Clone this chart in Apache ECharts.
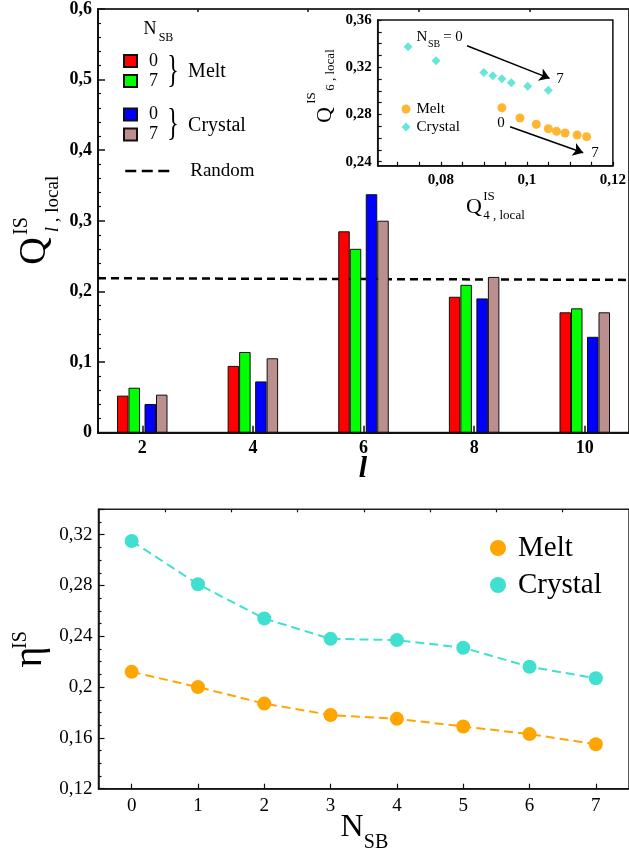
<!DOCTYPE html>
<html><head><meta charset="utf-8">
<script src="https://cdn.jsdelivr.net/npm/echarts@6/dist/echarts.min.js"></script>
<style>html,body{margin:0;padding:0;background:#fff}#c{width:629px;height:853px}</style>
</head><body><div id="c"></div><script>
// ---- top chart: Q_l local, bars ----
const lValues = [2, 4, 6, 8, 10];
const melt0 = [0.0525, 0.0946, 0.2852, 0.1925, 0.1705];
const melt7 = [0.0637, 0.1143, 0.2604, 0.2094, 0.1761];
const crystal0 = [0.0407, 0.0726, 0.3377, 0.1902, 0.1358];
const crystal7 = [0.0539, 0.1054, 0.3002, 0.2206, 0.1705];
const randomX = [1.2, 10.8];
const randomY = [0.2187, 0.2164];
const topMajorTicks = [2, 4, 6, 8, 10];
const topMinorTicks = [3, 5, 7, 9];
// ---- inset: Q6 vs Q4 ----
const insetMeltQ4 = [0.0942, 0.0984, 0.1022, 0.1050, 0.1069, 0.1089, 0.1117, 0.1139];
const insetMeltQ6 = [0.2857, 0.2770, 0.2717, 0.2679, 0.2657, 0.2643, 0.2626, 0.2612];
const insetCrystalQ4 = [0.0724, 0.0789, 0.0900, 0.0921, 0.0942, 0.0964, 0.1002, 0.1050];
const insetCrystalQ6 = [0.3374, 0.3255, 0.3155, 0.3127, 0.3103, 0.3069, 0.3039, 0.3005];
const insetXLabels = [0.08, 0.1, 0.12];
const insetXTicks = [0.07, 0.075, 0.08, 0.085, 0.09, 0.095, 0.1, 0.105, 0.11, 0.115, 0.12];
const insetYLabels = [0.24, 0.28, 0.32, 0.36];
const insetYTicks = [0.24, 0.25, 0.26, 0.27, 0.28, 0.29, 0.30, 0.31, 0.32, 0.33, 0.34, 0.35, 0.36];
const arrowUpper = [[0.0861, 0.3382], [0.1053, 0.3106]];
const arrowLower = [[0.0961, 0.2696], [0.1131, 0.2476]];
// ---- bottom chart: eta vs N_SB ----
const nsb = [0, 1, 2, 3, 4, 5, 6, 7];
const etaMelt = [0.212, 0.200, 0.187, 0.178, 0.175, 0.169, 0.163, 0.155];
const etaCrystal = [0.315, 0.281, 0.254, 0.238, 0.237, 0.231, 0.216, 0.207];
const bottomMinorTicks = [0.5, 1.5, 2.5, 3.5, 4.5, 5.5, 6.5];

const FF = 'Liberation Serif';
const fmt = v => parseFloat((+v).toFixed(3)).toString().replace('.', ',');
const pairs = (xs, ys) => xs.map((x, i) => [x, ys[i]]);

function T(text, x, y, size, o) {
  o = o || {};
  const font = (o.style || 'normal') + ' ' + (o.weight || 'normal') + ' ' + size + 'px "' + FF + '"';
  return { type: 'text', x: x, y: y, rotation: o.rot || 0, scaleY: o.sy || 1, silent: true, z: 100,
    style: { text: text, font: font, fill: '#000', align: 'center', verticalAlign: 'middle',
      textAlign: 'center', textVerticalAlign: 'middle', rich: o.rich } };
}
const R90 = Math.PI / 2;

const chart = echarts.init(document.getElementById('c'), null, { renderer: 'canvas' });
const barCommon = (name, color, data) => ({
  name: name, type: 'bar', xAxisIndex: 0, yAxisIndex: 0, barWidth: 11.5, barGap: 0, z: 3,
  itemStyle: { color: color, borderColor: '#111', borderWidth: 1 },
  data: pairs(lValues, data)
});

chart.setOption({
  animation: false,
  backgroundColor: '#fff',
  grid: [
    { left: 98, top: 5.7, right: -2, bottom: 420.3, show: true, borderColor: '#333', borderWidth: 2 },
    { left: 377.7, top: 20, width: 238.3, height: 145.7, show: true, borderColor: '#111', borderWidth: 1.5, z: 5 },
    { left: 98.5, top: 509.3, right: -1.5, bottom: 64.3, show: true, borderColor: '#222', borderWidth: 1.5 }
  ],
  xAxis: [
    { gridIndex: 0, type: 'value', min: 1.2, max: 10.8, splitLine: { show: false },
      axisLine: { onZero: false, lineStyle: { color: '#111', width: 2 } },
      axisTick: { inside: true, length: 7, customValues: topMajorTicks, lineStyle: { color: '#111', width: 1.5 } },
      axisLabel: { customValues: lValues, formatter: fmt, color: '#000', fontFamily: FF, fontSize: 18, fontWeight: 'bold', margin: 7 } },
    { gridIndex: 0, type: 'value', min: 1.2, max: 10.8, splitLine: { show: false },
      axisLine: { show: false, onZero: false },
      axisTick: { inside: true, length: 3, customValues: topMinorTicks, lineStyle: { color: '#111', width: 1.5 } },
      axisLabel: { show: false } },
    { gridIndex: 1, type: 'value', min: 0.06534, max: 0.12, splitLine: { show: false },
      axisLine: { onZero: false, lineStyle: { color: '#111', width: 1.5 } },
      axisTick: { inside: true, length: 4, customValues: insetXTicks, lineStyle: { color: '#111', width: 1.2 } },
      axisLabel: { customValues: insetXLabels, formatter: fmt, color: '#000', fontFamily: FF, fontSize: 15, fontWeight: 'bold', margin: 7 } },
    { gridIndex: 2, type: 'value', min: -0.5, max: 7.5, splitLine: { show: false },
      axisLine: { onZero: false, lineStyle: { color: '#111', width: 1.5 } },
      axisTick: { inside: true, length: 5, customValues: nsb, lineStyle: { color: '#111', width: 1.2 } },
      axisLabel: { customValues: nsb, formatter: fmt, color: '#000', fontFamily: FF, fontSize: 19, margin: 8 } },
    { gridIndex: 2, type: 'value', min: -0.5, max: 7.5, splitLine: { show: false },
      axisLine: { show: false, onZero: false },
      axisTick: { inside: true, length: 3, customValues: bottomMinorTicks, lineStyle: { color: '#111', width: 1.2 } },
      axisLabel: { show: false } }
  ],
  yAxis: [
    { gridIndex: 0, type: 'value', min: 0, max: 0.6, interval: 0.1, splitLine: { show: false },
      axisLine: { show: true, onZero: false, lineStyle: { color: '#111', width: 2 } },
      axisTick: { show: true, inside: true, length: 7, lineStyle: { color: '#111', width: 1.5 } },
      minorTick: { show: true, splitNumber: 5, length: 3, lineStyle: { color: '#111', width: 1.2 } },
      axisLabel: { formatter: fmt, color: '#000', fontFamily: FF, fontSize: 18, fontWeight: 'bold', margin: 6 } },
    { gridIndex: 1, type: 'value', min: 0.2366, max: 0.36, splitLine: { show: false },
      axisLine: { show: true, onZero: false, lineStyle: { color: '#111', width: 1.5 } },
      axisTick: { show: true, inside: true, length: 4, customValues: insetYTicks, lineStyle: { color: '#111', width: 1.2 } },
      axisLabel: { customValues: insetYLabels, formatter: fmt, color: '#000', fontFamily: FF, fontSize: 15, fontWeight: 'bold', margin: 6 } },
    { gridIndex: 2, type: 'value', min: 0.12, max: 0.34, interval: 0.04, splitLine: { show: false },
      axisLine: { show: true, onZero: false, lineStyle: { color: '#111', width: 1.5 } },
      axisTick: { show: true, inside: true, length: 6, lineStyle: { color: '#111', width: 1.2 } },
      minorTick: { show: true, splitNumber: 4, length: 3, lineStyle: { color: '#111', width: 1.2 } },
      axisLabel: { formatter: fmt, color: '#000', fontFamily: FF, fontSize: 19, margin: 6, showMaxLabel: false } }
  ],
  legend: [
    { selectedMode: false, orient: 'vertical', left: 123, top: 51, padding: 0, itemGap: 0, itemWidth: 13, itemHeight: 12,
      icon: 'rect', data: ['Melt 0', 'Melt 7'], formatter: n => n.split(' ')[1],
      textStyle: { fontFamily: FF, fontSize: 18, lineHeight: 20, color: '#000', padding: [0, 0, 0, 7] } },
    { selectedMode: false, orient: 'vertical', left: 123, top: 104.5, padding: 0, itemGap: 0, itemWidth: 13, itemHeight: 12,
      icon: 'rect', data: ['Crystal 0', 'Crystal 7'], formatter: n => n.split(' ')[1],
      textStyle: { fontFamily: FF, fontSize: 18, lineHeight: 20, color: '#000', padding: [0, 0, 0, 7] } },
    { selectedMode: false, orient: 'vertical', left: 124, top: 160, padding: 0, itemWidth: 44, itemHeight: 12,
      data: ['Random'], lineStyle: { type: [11, 5.5], width: 2.5, color: '#000' },
      itemStyle: { color: 'rgba(0,0,0,0)', borderWidth: 0, opacity: 0 },
      textStyle: { fontFamily: FF, fontSize: 19, lineHeight: 22, color: '#000', padding: [0, 0, 0, 16] } },
    { selectedMode: false, orient: 'vertical', left: 401.5, top: 100, padding: 0, itemGap: 0, itemWidth: 9, itemHeight: 9,
      data: [{ name: 'Melt ', icon: 'circle' }, { name: 'Crystal ', icon: 'diamond' }], formatter: n => n.trim(),
      textStyle: { fontFamily: FF, fontSize: 15, lineHeight: 18, color: '#000', padding: [0, 0, 0, 1] } },
    { selectedMode: false, orient: 'vertical', left: 490, top: 533, padding: 0, itemGap: 7, itemWidth: 16, itemHeight: 16,
      data: [{ name: 'Melt', icon: 'circle' }, { name: 'Crystal', icon: 'circle' }],
      textStyle: { fontFamily: FF, fontSize: 29, lineHeight: 30, color: '#000', padding: [0, 0, 0, 7] } }
  ],
  series: [
    { name: 'Random', type: 'line', xAxisIndex: 0, yAxisIndex: 0, symbol: 'none', z: 2,
      lineStyle: { color: '#000', width: 2.5, type: [8, 5] }, itemStyle: { color: '#000' },
      data: pairs(randomX, randomY) },
    barCommon('Melt 0', '#FF0000', melt0),
    barCommon('Melt 7', '#00FF00', melt7),
    { name: 'gap', type: 'bar', xAxisIndex: 0, yAxisIndex: 0, barWidth: 4.5, barGap: 0, data: [] },
    barCommon('Crystal 0', '#0000FF', crystal0),
    barCommon('Crystal 7', '#BC8F8F', crystal7),
    { name: 'Melt ', type: 'scatter', xAxisIndex: 2, yAxisIndex: 1, symbol: 'circle', symbolSize: 9, z: 6,
      itemStyle: { color: '#FFA500' }, data: pairs(insetMeltQ4, insetMeltQ6),
      markLine: { silent: true, symbol: ['none', 'arrow'], symbolSize: 10, label: { show: false },
        lineStyle: { color: '#000', width: 1.5, type: 'solid', curveness: -0.08 },
        data: [[{ coord: arrowLower[0] }, { coord: arrowLower[1] }]] } },
    { name: 'Crystal ', type: 'scatter', xAxisIndex: 2, yAxisIndex: 1, symbol: 'diamond', symbolSize: 9, z: 6,
      itemStyle: { color: '#40E0D0' }, data: pairs(insetCrystalQ4, insetCrystalQ6),
      markLine: { silent: true, symbol: ['none', 'arrow'], symbolSize: 10, label: { show: false },
        lineStyle: { color: '#000', width: 1.5, type: 'solid', curveness: -0.1 },
        data: [[{ coord: arrowUpper[0] }, { coord: arrowUpper[1] }]] } },
    { name: 'Melt', type: 'line', xAxisIndex: 3, yAxisIndex: 2, symbol: 'circle', symbolSize: 14,
      itemStyle: { color: '#FFA500' }, lineStyle: { color: '#FFA500', width: 2, type: [9, 5] },
      data: pairs(nsb, etaMelt) },
    { name: 'Crystal', type: 'line', xAxisIndex: 3, yAxisIndex: 2, symbol: 'circle', symbolSize: 14,
      itemStyle: { color: '#40E0D0' }, lineStyle: { color: '#40E0D0', width: 2, type: [9, 5] },
      data: pairs(nsb, etaCrystal) }
  ],
  graphic: [
    // top chart legend header and braces
    T('N', 150, 29, 18),
    T('SB', 166, 38, 12),
    T('}', 173, 72, 24, { sy: 1.6 }),
    T('Melt', 207, 72, 20),
    T('}', 173, 125, 24, { sy: 1.6 }),
    T('Crystal', 217, 126, 20),
    // top y title
    T('Q', 35, 251, 38, { rot: R90 }),
    T('IS', 22, 226, 20, { rot: R90 }),
    T('{i|l}{n| , local}', 53, 204, 19, { rot: R90, rich: { i: { font: 'italic 19px "' + FF + '"' }, n: { font: '19px "' + FF + '"' } } }),
    // top x title
    T('l', 363, 469, 30, { style: 'italic', weight: 'bold' }),
    // inset titles
    T('Q', 325, 115, 22, { rot: R90 }),
    T('IS', 312, 98, 13, { rot: R90 }),
    T('6 , local', 331, 70, 13, { rot: R90 }),
    T('Q', 474, 207, 22),
    T('IS', 489, 197, 13),
    T('4 , local', 504, 216, 13),
    // inset annotations
    T('N', 422, 37, 15),
    T('SB', 434, 44, 10),
    T('= 0', 453, 37, 15),
    T('7', 560, 79, 15),
    T('0', 501, 123, 15),
    T('7', 595, 153, 15),
    // bottom titles
    T('\u03B7', 30, 657, 40, { rot: R90 }),
    T('IS', 21, 640, 20, { rot: R90 }),
    T('N', 352, 828, 32),
    T('SB', 376, 843, 20)
  ]
});
</script></body></html>
